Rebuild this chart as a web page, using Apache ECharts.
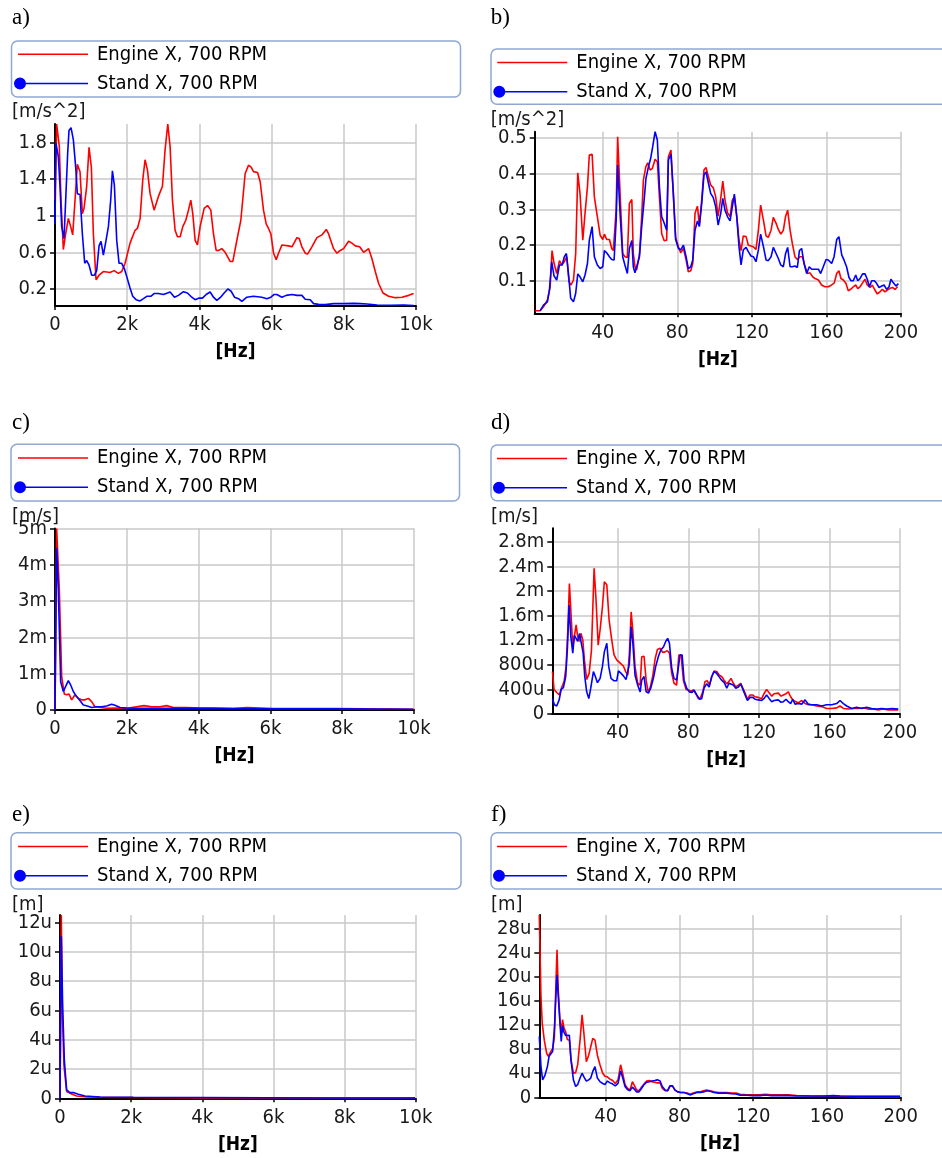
<!DOCTYPE html>
<html><head><meta charset="utf-8">
<script src="https://cdn.jsdelivr.net/npm/echarts@6/dist/echarts.min.js"></script>
<style>html,body{margin:0;padding:0;background:#fff}#c{width:942px;height:1158px}</style>
</head><body><div id="c"></div><script>
// ---------- series names ----------
const ENGINE = 'Engine X, 700 RPM';
const STAND = 'Stand X, 700 RPM';

// ---------- tick values ----------
const wideXTicks = [0, 2000, 4000, 6000, 8000, 10000];
const lowXTicks = [40, 80, 120, 160, 200];
const aYTicks = [0.2, 0.6, 1, 1.4, 1.8];
const bYTicks = [0.1, 0.2, 0.3, 0.4, 0.5];
const cYTicks = [0, 0.001, 0.002, 0.003, 0.004, 0.005];
const dYTicks = [0, 0.0004, 0.0008, 0.0012, 0.0016, 0.002, 0.0024, 0.0028];
const eYTicks = [0, 2e-6, 4e-6, 6e-6, 8e-6, 10e-6, 12e-6];
const fYTicks = [0, 4e-6, 8e-6, 12e-6, 16e-6, 20e-6, 24e-6, 28e-6];

// ---------- a) acceleration 0..10 kHz [m/s^2] ----------
const aEngineHz = [0,46,120,166,231,296,370,434,490,555,619,693,758,804,878,943,1007,1063,1137,1220,1340,1525,1636,1756,1848,1941,2079,2218,2283,2357,2431,2495,2560,2634,2745,2800,2865,2976,3050,3124,3189,3253,3327,3392,3466,3540,3623,3697,3762,3817,3882,3946,4020,4131,4224,4316,4390,4464,4529,4621,4713,4852,4926,5037,5148,5268,5360,5434,5499,5610,5684,5776,5850,5915,5980,6054,6128,6192,6285,6331,6470,6562,6636,6701,6765,6839,6932,6996,7116,7255,7394,7514,7579,7717,7810,7902,7994,8133,8226,8318,8438,8549,8688,8780,8872,8965,9085,9242,9427,9612,9797,9935];
const aEngine = [1.17,2.0,1.75,1.17,0.63,0.805,0.97,0.88,0.79,1.17,1.56,1.48,1.02,1.08,1.32,1.745,1.53,0.8,0.3,0.35,0.39,0.38,0.40,0.37,0.39,0.48,0.70,0.84,0.86,0.97,1.39,1.61,1.5,1.24,1.06,1.08,1.21,1.32,1.72,2.0,1.75,1.17,0.84,0.77,0.77,0.88,0.95,1.06,1.17,1.02,0.73,0.68,0.88,1.08,1.11,1.06,0.80,0.62,0.62,0.64,0.60,0.50,0.50,0.73,0.95,1.46,1.55,1.53,1.48,1.47,1.37,1.06,0.91,0.86,0.80,0.59,0.52,0.59,0.68,0.69,0.67,0.66,0.71,0.76,0.75,0.66,0.59,0.58,0.66,0.76,0.79,0.85,0.80,0.64,0.59,0.62,0.64,0.72,0.70,0.67,0.66,0.60,0.64,0.53,0.39,0.26,0.156,0.12,0.105,0.11,0.13,0.15];
const aStandHz = [0,28,92,139,185,250,296,351,388,444,508,573,619,693,758,823,878,943,1017,1091,1155,1220,1275,1340,1414,1479,1543,1590,1645,1710,1774,1848,1922,2006,2079,2153,2246,2357,2449,2542,2652,2745,2865,3004,3115,3189,3309,3420,3558,3669,3789,3882,3993,4085,4187,4298,4390,4482,4575,4686,4787,4880,4972,5083,5176,5314,5499,5730,5869,5980,6072,6146,6285,6405,6562,6701,6839,6932,7070,7163,7301,7486,7717,7994,8272,8457,8641,8919,9288,9658,9935];
const aStand = [0.91,1.79,1.64,1.32,0.88,0.75,1.17,1.68,1.93,1.96,1.83,1.53,1.24,1.23,0.80,0.48,0.51,0.46,0.35,0.35,0.40,0.67,0.72,0.57,0.73,0.88,1.17,1.49,1.33,0.73,0.48,0.48,0.42,0.31,0.21,0.12,0.083,0.069,0.094,0.12,0.12,0.15,0.15,0.14,0.156,0.167,0.11,0.13,0.17,0.156,0.11,0.083,0.10,0.10,0.14,0.167,0.11,0.076,0.105,0.156,0.20,0.175,0.11,0.094,0.065,0.11,0.12,0.11,0.094,0.11,0.14,0.14,0.11,0.13,0.14,0.13,0.13,0.087,0.083,0.04,0.032,0.029,0.04,0.04,0.043,0.04,0.036,0.025,0.021,0.025,0.018];

// ---------- b) acceleration 0..200 Hz [m/s^2] ----------
const bEngineHz = [3.7,6.4,8.2,10.3,11.8,12.8,13.9,15.3,16.8,18.0,19.4,20.7,21.9,23.0,24.3,25.5,26.6,27.8,29.3,30.5,31.8,32.8,34.3,35.5,37.1,38.6,40.0,40.9,42.1,43.6,44.8,45.7,47.2,48.0,49.3,50.7,51.9,53.2,54.3,55.6,56.4,57.3,58.2,59.7,60.9,61.8,63.1,64.1,65.4,66.6,68.1,69.3,70.4,71.6,72.9,74.3,75.2,76.6,77.9,79.1,80.6,81.8,83.3,84.7,85.9,87.2,88.3,89.5,90.8,91.8,93.1,94.3,95.4,96.7,97.9,99.3,100.6,101.9,103.3,104.4,105.6,106.9,108.3,109.5,110.6,111.9,113.1,114.2,115.4,116.9,118.1,119.5,120.8,122.2,123.5,124.7,126.2,127.6,128.8,130.3,131.5,133.0,134.2,135.5,136.9,138.1,139.2,140.5,141.7,143.1,144.4,145.8,147.1,148.3,149.8,151.2,152.6,153.9,155.7,157.4,159.2,161.0,162.8,164.2,165.5,166.7,167.8,169.1,170.5,171.7,173.0,174.4,175.7,176.8,178.0,179.4,180.7,181.9,183.4,184.6,186.0,187.3,188.7,190.0,191.4,192.7,194.1,195.5,196.8,198.2];
const bEngine = [0.017,0.017,0.028,0.047,0.084,0.185,0.149,0.121,0.157,0.145,0.154,0.168,0.098,0.089,0.103,0.177,0.402,0.345,0.214,0.289,0.363,0.452,0.454,0.335,0.28,0.228,0.216,0.231,0.216,0.216,0.191,0.185,0.30,0.503,0.345,0.177,0.168,0.166,0.317,0.328,0.177,0.14,0.131,0.175,0.28,0.382,0.419,0.43,0.41,0.414,0.44,0.433,0.335,0.233,0.213,0.214,0.447,0.466,0.335,0.222,0.196,0.179,0.191,0.159,0.126,0.129,0.149,0.289,0.309,0.256,0.326,0.41,0.417,0.391,0.368,0.361,0.335,0.281,0.331,0.379,0.326,0.291,0.28,0.326,0.335,0.28,0.214,0.185,0.226,0.224,0.2,0.198,0.196,0.188,0.242,0.312,0.27,0.226,0.222,0.242,0.278,0.261,0.244,0.231,0.242,0.281,0.298,0.242,0.205,0.168,0.16,0.168,0.168,0.145,0.121,0.123,0.112,0.107,0.103,0.089,0.084,0.084,0.089,0.095,0.121,0.129,0.107,0.103,0.093,0.073,0.077,0.084,0.089,0.079,0.084,0.095,0.105,0.089,0.082,0.089,0.075,0.064,0.07,0.077,0.07,0.075,0.08,0.082,0.077,0.084];
const bStandHz = [6.4,8.2,10.3,11.4,12.6,13.9,15.3,16.8,18.2,19.4,20.5,21.6,22.8,24.3,25.5,26.6,27.8,29.3,30.5,31.8,32.8,34.3,35.5,37.1,38.6,40.0,40.9,42.1,43.6,44.8,46.1,47.2,48.0,49.3,50.7,51.9,53.2,54.3,55.6,56.4,57.3,58.2,59.7,60.9,62.2,63.2,64.5,65.7,66.8,68.1,69.3,70.4,71.6,72.9,74.3,75.2,76.6,77.9,79.1,80.6,81.8,83.3,84.7,85.9,87.2,88.3,89.5,90.8,91.8,93.1,94.3,95.4,96.7,97.9,99.3,100.6,101.9,103.3,104.4,105.6,106.9,108.3,109.5,110.6,111.9,113.1,114.2,115.4,116.9,118.1,119.5,120.8,122.2,123.5,124.7,126.2,127.6,128.8,130.3,131.5,133.0,134.2,135.5,136.9,138.1,139.2,140.5,141.7,143.1,144.4,145.5,146.7,148.0,149.4,150.8,152.1,153.9,155.7,156.9,158.3,159.8,161.0,162.8,164.1,165.5,166.7,168.2,169.4,170.8,172.1,173.2,174.4,175.7,176.8,178.0,179.4,180.7,181.9,183.0,184.3,185.7,187.0,188.2,189.7,190.9,192.3,193.6,194.6,195.9,197.3,198.6];
const bStand = [0.017,0.033,0.042,0.075,0.154,0.114,0.103,0.145,0.145,0.168,0.177,0.121,0.052,0.042,0.066,0.12,0.112,0.098,0.117,0.149,0.214,0.252,0.168,0.145,0.135,0.14,0.185,0.179,0.168,0.16,0.159,0.27,0.424,0.289,0.168,0.145,0.121,0.191,0.213,0.14,0.123,0.126,0.168,0.252,0.326,0.387,0.419,0.442,0.475,0.517,0.493,0.363,0.28,0.263,0.242,0.438,0.454,0.345,0.216,0.191,0.187,0.2,0.168,0.135,0.14,0.159,0.242,0.268,0.252,0.317,0.396,0.405,0.373,0.345,0.333,0.307,0.256,0.289,0.331,0.298,0.28,0.268,0.307,0.343,0.28,0.196,0.145,0.187,0.194,0.182,0.17,0.168,0.154,0.187,0.231,0.196,0.159,0.157,0.168,0.194,0.177,0.163,0.145,0.14,0.177,0.194,0.14,0.14,0.142,0.138,0.185,0.191,0.149,0.121,0.14,0.133,0.133,0.133,0.121,0.14,0.16,0.159,0.149,0.168,0.216,0.224,0.173,0.159,0.14,0.11,0.101,0.101,0.117,0.101,0.107,0.12,0.12,0.105,0.084,0.101,0.101,0.093,0.082,0.086,0.089,0.077,0.084,0.105,0.095,0.086,0.093];

// ---------- c) velocity 0..10 kHz [m/s] ----------
const cEngineHz = [0,46,121,186,260,325,390,464,557,650,743,836,929,1021,1114,1253,1439,1718,1996,2275,2479,2693,2925,3110,3296,3667,4039,4410,4967,5339,5710,6082,6825,7753,8681,9981];
const cEngine = [0,0.0050,0.0033,0.00092,0.00044,0.00042,0.00044,0.00028,0.00042,0.00032,0.00028,0.00028,0.00032,0.00023,0.00009,0.00007,0.00005,0.000055,0.000046,0.00009,0.00012,0.00009,0.00009,0.00012,0.00007,0.00007,0.000055,0.000055,0.00004,0.000065,0.000055,0.00004,0.00004,0.00004,0.00003,0.00002];
const cStandHz = [0,46,93,158,232,297,371,436,511,585,678,789,901,1021,1161,1300,1439,1578,1671,1811,1996,2368,3110,4039,4967,5896,6825,7753,9981];
const cStand = [0,0.00447,0.0033,0.00078,0.00051,0.00065,0.00081,0.00069,0.00051,0.00039,0.00028,0.00014,0.00011,0.00007,0.00009,0.00009,0.00011,0.00016,0.00013,0.00007,0.000055,0.000046,0.000046,0.000046,0.00004,0.00003,0.00003,0.00003,0.00002];

// ---------- d) velocity 0..200 Hz [mm/s] ----------
const dEngineHz = [3.0,3.9,5.4,6.9,8.3,9.6,10.7,11.7,12.6,13.6,14.5,15.3,16.4,17.3,18.3,19.2,20.2,21.1,22.4,23.8,25.1,26.6,27.7,28.9,30.0,31.3,32.4,33.8,35.1,36.6,37.9,39.4,40.4,41.7,43.2,44.5,45.7,46.6,47.6,48.5,49.8,51.3,52.7,53.6,54.9,56.1,57.2,58.3,59.8,61.2,62.5,64.0,65.5,66.8,68.1,69.3,70.6,71.9,73.4,74.6,75.9,77.2,78.7,80.0,81.6,82.9,84.2,85.7,87.0,88.2,89.5,90.8,92.0,93.3,94.6,96.1,97.6,98.9,100.3,101.8,103.1,104.2,105.5,106.9,108.4,109.7,110.8,112.2,113.5,115.0,116.5,117.8,119.7,121.6,122.9,124.4,125.9,127.3,128.6,129.7,131.0,132.6,133.9,135.4,136.7,138.0,139.5,141.1,142.4,144.3,146.2,148.0,149.9,152.8,155.6,158.4,161.3,164.1,166.0,167.9,170.7,173.5,176.4,179.2,182.0,184.9,187.7,190.5,193.4,196.2,199.0];
const dEngineMmS = [0.69,0.40,0.35,0.31,0.44,0.53,0.77,1.37,2.12,1.58,1.09,1.09,1.45,1.26,1.18,1.31,1.20,0.88,0.56,0.66,1.04,2.37,1.85,1.12,1.37,1.74,2.15,2.10,1.53,1.20,0.96,0.88,0.89,0.82,0.78,0.69,0.63,0.99,1.66,1.37,0.77,0.50,0.47,0.93,0.94,0.55,0.36,0.42,0.61,0.90,1.05,1.07,1.00,1.01,1.03,0.99,0.66,0.50,0.47,0.96,0.96,0.55,0.40,0.39,0.37,0.39,0.33,0.25,0.27,0.36,0.53,0.54,0.47,0.61,0.70,0.69,0.63,0.61,0.55,0.49,0.53,0.58,0.50,0.44,0.47,0.50,0.49,0.34,0.24,0.31,0.31,0.28,0.27,0.25,0.33,0.40,0.34,0.29,0.33,0.36,0.34,0.29,0.31,0.33,0.36,0.28,0.22,0.20,0.18,0.22,0.17,0.15,0.15,0.13,0.12,0.09,0.09,0.10,0.13,0.09,0.08,0.09,0.09,0.10,0.08,0.08,0.065,0.08,0.065,0.07,0.065];
const dStandHz = [3.0,4.1,5.4,6.8,7.9,9.2,10.5,11.5,12.4,13.4,14.5,15.4,16.4,17.3,18.3,19.4,20.4,21.3,22.4,23.6,24.7,26.2,27.3,28.5,30.0,31.3,32.4,33.8,34.9,36.2,37.9,39.4,40.4,41.9,43.2,44.7,45.7,46.6,47.6,48.5,49.8,51.3,52.7,53.6,54.9,56.1,57.4,58.7,60.2,61.5,63.0,64.4,65.9,67.2,68.3,69.3,70.6,71.9,73.4,74.4,75.3,76.5,77.6,79.1,80.6,82.1,83.3,84.8,86.3,87.6,88.9,90.4,91.8,93.3,94.6,96.1,97.6,98.9,100.4,101.8,103.1,104.2,105.5,106.9,108.4,109.7,110.8,112.2,113.5,115.0,116.5,117.8,119.7,121.6,122.9,124.4,125.9,127.3,128.6,129.7,131.0,132.6,133.9,135.4,136.7,138.0,139.2,140.5,142.4,144.3,146.2,148.0,149.9,152.8,155.6,158.4,161.3,164.1,166.0,167.9,169.8,172.6,175.4,178.3,181.1,183.9,186.8,189.6,192.4,195.3,199.0];
const dStandMmS = [0.25,0.15,0.13,0.23,0.40,0.43,0.61,1.09,1.77,1.26,0.99,1.28,1.23,1.18,1.31,1.32,0.99,0.61,0.36,0.25,0.42,0.69,0.61,0.51,0.58,0.77,1.01,1.15,0.77,0.58,0.54,0.54,0.70,0.66,0.62,0.56,0.54,0.82,1.42,1.18,0.63,0.47,0.36,0.55,0.61,0.36,0.34,0.42,0.58,0.77,0.93,1.04,1.09,1.18,1.23,1.15,0.74,0.58,0.55,0.54,0.96,0.96,0.55,0.42,0.36,0.35,0.39,0.31,0.24,0.25,0.42,0.49,0.44,0.61,0.69,0.66,0.60,0.55,0.51,0.42,0.50,0.53,0.47,0.42,0.44,0.49,0.47,0.31,0.22,0.27,0.27,0.24,0.23,0.22,0.25,0.31,0.25,0.20,0.22,0.25,0.23,0.19,0.20,0.24,0.20,0.17,0.24,0.16,0.17,0.16,0.23,0.16,0.15,0.15,0.13,0.15,0.15,0.17,0.22,0.17,0.13,0.09,0.11,0.09,0.11,0.09,0.08,0.09,0.08,0.09,0.08];

// ---------- e) displacement 0..10 kHz [um] ----------
const eEngineHz = [0,37,66,112,187,328,469,750,1125,2062,3936,7685,9981];
const eEngineUm = [0,12.5,5.8,2.2,0.46,0.30,0.16,0.09,0.07,0.05,0.02,0.02,0.02];
const eStandHz = [0,37,75,122,187,281,375,515,703,1125,2062,3936,7685,9981];
const eStandUm = [0,11.05,6.3,2.6,0.57,0.39,0.39,0.27,0.16,0.09,0.07,0.05,0.02,0.02];

// ---------- f) displacement 0..200 Hz [um] ----------
const fEngineHz = [4.0,4.9,5.6,6.7,8.0,8.9,10.2,11.3,12.2,12.9,13.6,14.3,15.2,15.9,16.6,17.4,18.3,19.2,20.3,21.2,22.5,23.7,24.8,26.1,27.2,28.2,29.5,30.8,31.9,33.0,34.2,35.5,36.9,38.4,39.6,40.9,42.4,43.8,45.2,46.7,48.1,49.2,50.5,51.8,53.2,54.5,55.5,56.8,58.1,59.5,60.8,62.2,63.7,65.1,66.6,68.0,69.5,70.7,72.2,73.6,74.9,76.2,77.6,79.1,80.7,82.5,84.3,85.7,87.5,89.4,91.2,93.0,94.8,96.6,98.8,101.1,103.3,105.6,108.3,110.7,112.9,116.5,120.1,123.7,126.4,130.0,134.6,139.1,143.6,150.8,158.1,167.1,176.1,185.2,199.6];
const fEngineUm = [30.3,16.7,12.3,9.5,7.3,6.8,7.6,8.1,10.1,17.8,24.5,17.8,12.9,10.6,12.9,11.5,10.9,9.6,9.5,6.2,4.0,4.1,5.4,9.5,13.7,10.6,5.9,7.0,8.4,9.8,9.5,7.0,5.4,4.0,3.5,3.4,3.0,2.8,2.3,2.9,5.4,4.0,2.1,1.5,1.2,2.6,2.6,1.2,1.1,1.7,2.2,2.7,2.8,2.6,2.5,2.4,2.4,1.5,1.1,1.1,1.9,1.9,1.2,0.9,0.8,0.8,0.7,0.5,0.7,0.9,0.9,1.1,1.2,1.1,0.9,0.8,0.8,0.8,0.7,0.7,0.5,0.4,0.4,0.4,0.5,0.4,0.4,0.4,0.3,0.22,0.17,0.17,0.11,0.11,0.11];
const fStandHz = [4.0,4.9,5.8,7.1,8.4,9.3,10.3,11.2,12.2,12.9,13.6,14.3,15.2,15.9,16.6,17.4,18.3,19.2,20.3,21.2,22.5,23.7,24.8,26.1,27.2,28.2,29.5,30.8,31.9,33.0,34.2,35.5,36.9,38.4,39.6,40.9,42.4,43.8,45.2,46.7,48.1,49.2,50.5,51.8,53.2,54.5,55.5,56.8,58.1,59.5,60.8,62.2,63.7,65.1,66.6,68.0,69.5,70.7,72.2,73.6,74.9,76.2,77.6,79.1,80.7,82.5,84.3,85.7,87.5,89.4,91.2,93.0,94.8,96.6,98.8,101.1,103.3,105.6,108.3,110.7,112.9,116.5,120.1,123.7,126.4,130.0,134.6,139.1,143.6,150.8,158.1,163.6,167.1,176.1,185.2,199.6];
const fStandUm = [10.1,5.1,2.9,3.7,5.1,6.8,6.9,7.6,11.4,16.2,20.3,16.7,12.3,9.3,11.9,10.8,10.3,10.4,10.3,6.2,2.9,1.8,2.1,3.2,4.0,3.4,2.7,2.9,3.2,4.3,5.1,3.2,2.6,2.3,2.1,2.7,2.4,2.2,1.9,2.3,4.4,3.3,1.8,1.3,1.1,1.7,1.8,0.9,0.9,1.5,2.1,2.5,2.6,2.7,2.8,2.9,2.7,1.8,1.2,1.1,1.9,1.9,1.2,0.9,0.8,0.8,0.6,0.4,0.6,0.8,0.8,0.9,1.1,1.0,0.8,0.7,0.7,0.7,0.6,0.55,0.33,0.33,0.28,0.28,0.39,0.28,0.28,0.28,0.22,0.22,0.22,0.28,0.22,0.17,0.17,0.17];

// ---------- helpers ----------
const MILLI = 1e-3, MICRO = 1e-6;
function pairs(xs, ys, scale) {
  const n = Math.min(xs.length, ys.length), out = [];
  for (let i = 0; i < n; i++) out.push([xs[i], ys[i] * (scale || 1)]);
  return out;
}
function trim(v) { return String(parseFloat(v.toFixed(3))); }
const plainFmt = v => trim(v);
const kFmt = v => v === 0 ? '0' : trim(v / 1000) + 'k';
const siFmt = v => {
  if (v === 0) return '0';
  const a = Math.abs(v);
  if (a >= 1e-3 && a < 1) return trim(v * 1e3) + 'm';
  if (a >= 1e-6 && a < 1e-3) return trim(v * 1e6) + 'u';
  return trim(v);
};

const FONT = 'DejaVu Sans Condensed, DejaVu Sans';
const FS = 20;
const RED = '#ff0000', BLUE = '#0000ff';
const RED_ICON = 'path://M0,0M4,5.2h70v1.6h-70zM78,12';
const BLUE_ICON = 'path://M0,6a6,6 0 1,1 12,0a6,6 0 1,1 -12,0zM6,5.2h68v1.6h-68zM78,12';

// ---------- panel layout ----------
const panels = [
  { tag: 'a)', tagPos: [12, 6], unit: '[m/s^2]', unitPos: [12, 102], legendPos: [14, 44.3], box: [11.5, 41, 449, 56],
    grid: [55, 124, 361, 182], x: [0, 10000, wideXTicks, kFmt], y: [0.014, 2.0, aYTicks, plainFmt],
    engine: pairs(aEngineHz, aEngine), stand: pairs(aStandHz, aStand) },
  { tag: 'b)', tagPos: [490.7, 6], unit: '[m/s^2]', unitPos: [490.7, 110], legendPos: [493.3, 52.5], box: [491, 49, 480, 55.3],
    grid: [534.7, 131.7, 366.3, 181.6], x: [3.5, 200, lowXTicks, plainFmt], y: [0.01, 0.517, bYTicks, plainFmt],
    engine: pairs(bEngineHz, bEngine), stand: pairs(bStandHz, bStand) },
  { tag: 'c)', tagPos: [12, 411], unit: '[m/s]', unitPos: [12, 507], legendPos: [14, 448], box: [11, 444.3, 448.5, 56.7],
    grid: [55, 528.5, 359, 181.5], x: [0, 10000, wideXTicks, kFmt], y: [0, 0.005, cYTicks, siFmt],
    engine: pairs(cEngineHz, cEngine), stand: pairs(cStandHz, cStand) },
  { tag: 'd)', tagPos: [491, 411], unit: '[m/s]', unitPos: [491, 507], legendPos: [493, 448.5], box: [491, 445, 480, 55.7],
    grid: [552.3, 528.3, 347.7, 185.7], x: [2.9, 200, lowXTicks, plainFmt], y: [0, 0.00302, dYTicks, siFmt],
    engine: pairs(dEngineHz, dEngineMmS, MILLI), stand: pairs(dStandHz, dStandMmS, MILLI) },
  { tag: 'e)', tagPos: [12, 803], unit: '[m]', unitPos: [12, 894.5], legendPos: [14, 836.5], box: [11, 832.7, 450, 56.3],
    grid: [60, 915, 355.7, 183.3], x: [0, 10000, wideXTicks, kFmt], y: [0, 12.5e-6, eYTicks, siFmt],
    engine: pairs(eEngineHz, eEngineUm, MICRO), stand: pairs(eStandHz, eStandUm, MICRO) },
  { tag: 'f)', tagPos: [491, 803], unit: '[m]', unitPos: [491, 894.5], legendPos: [493, 836.5], box: [491, 832.7, 480, 56.3],
    grid: [539.3, 915, 361.4, 182.3], x: [4.0, 200, lowXTicks, plainFmt], y: [0, 30.3e-6, fYTicks, siFmt],
    engine: pairs(fEngineHz, fEngineUm, MICRO), stand: pairs(fStandHz, fStandUm, MICRO) }
];

const labelStyle = { fontFamily: FONT, fontSize: FS, color: '#1a1a1a' };
const option = { animation: false, backgroundColor: '#fff', title: [], legend: [], grid: [], xAxis: [], yAxis: [], series: [], graphic: [] };

panels.forEach((p, i) => {
  option.title.push({ text: p.tag, left: p.tagPos[0], top: p.tagPos[1], padding: 0,
    textStyle: { fontFamily: 'Liberation Serif', fontSize: 23, fontWeight: 'normal', color: '#000', lineHeight: 24 } });
  option.title.push({ text: p.unit, left: p.unitPos[0], top: p.unitPos[1], padding: 0,
    textStyle: { fontFamily: FONT, fontSize: FS, fontWeight: 'normal', color: '#1a1a1a', lineHeight: 20 } });
  option.graphic.push({ type: 'rect', silent: true, z: -1,
    shape: { x: p.box[0], y: p.box[1], width: p.box[2], height: p.box[3], r: 6 },
    style: { fill: 'none', stroke: '#8ea8d2', lineWidth: 1.5 } });
  option.legend.push({ orient: 'vertical', left: p.legendPos[0], top: p.legendPos[1], padding: 0, itemGap: 9.2,
    itemWidth: 78, itemHeight: 12, symbolKeepAspect: true, selectedMode: false,
    textStyle: { fontFamily: FONT, fontSize: FS, color: '#000', lineHeight: 20 },
    data: [
      { name: ENGINE, icon: RED_ICON, itemStyle: { color: RED, borderWidth: 0 } },
      { name: STAND, icon: BLUE_ICON, itemStyle: { color: BLUE, borderWidth: 0 } }
    ] });
  option.grid.push({ left: p.grid[0], top: p.grid[1], width: p.grid[2], height: p.grid[3], outerBoundsMode: 'none', containLabel: false });
  const split = { show: true, lineStyle: { color: '#c8c8c8', width: 1.5 } };
  option.xAxis.push({ type: 'value', gridIndex: i, min: p.x[0], max: p.x[1],
    name: '[Hz]', nameLocation: 'middle', nameGap: 37,
    nameTextStyle: { fontFamily: FONT, fontWeight: 'bold', fontSize: 19, color: '#000' },
    axisLine: { show: true, onZero: false, lineStyle: { color: '#000', width: 2 } },
    axisTick: { show: true, length: 4, customValues: p.x[2], lineStyle: { color: '#000', width: 1.5 } },
    axisLabel: Object.assign({ customValues: p.x[2], formatter: p.x[3], margin: 9 }, labelStyle),
    splitLine: split });
  option.yAxis.push({ type: 'value', gridIndex: i, min: p.y[0], max: p.y[1],
    axisLine: { show: true, onZero: false, lineStyle: { color: '#000', width: 2 } },
    axisTick: { show: true, length: 5, customValues: p.y[2], lineStyle: { color: '#000', width: 1.5 } },
    axisLabel: Object.assign({ customValues: p.y[2], formatter: p.y[3], margin: 8 }, labelStyle),
    splitLine: split });
  option.series.push({ type: 'line', name: ENGINE, xAxisIndex: i, yAxisIndex: i, data: p.engine,
    showSymbol: false, symbol: 'none', clip: true, silent: true,
    lineStyle: { color: RED, width: 1.6 }, itemStyle: { color: RED } });
  option.series.push({ type: 'line', name: STAND, xAxisIndex: i, yAxisIndex: i, data: p.stand,
    showSymbol: false, symbol: 'none', clip: true, silent: true,
    lineStyle: { color: BLUE, width: 1.6 }, itemStyle: { color: BLUE } });
});

const chart = echarts.init(document.getElementById('c'), null, { renderer: 'canvas' });
chart.setOption(option);
</script></body></html>
